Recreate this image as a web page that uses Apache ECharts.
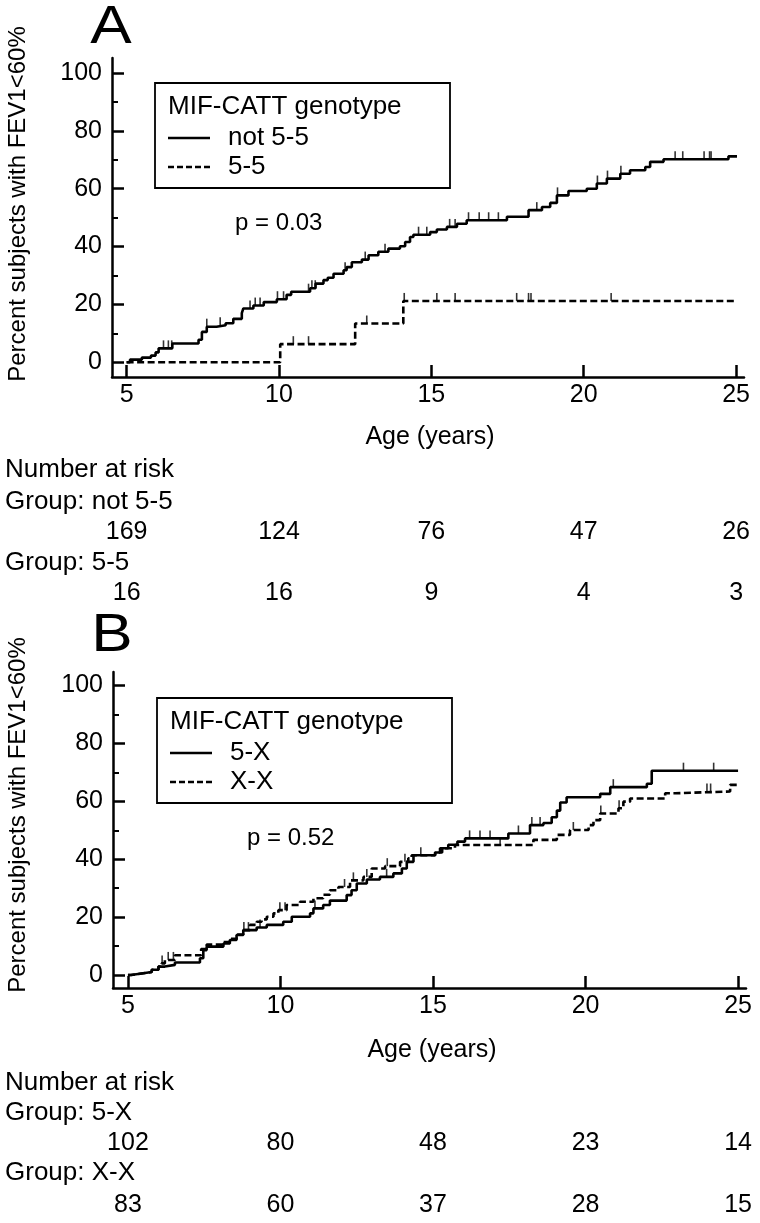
<!DOCTYPE html>
<html>
<head>
<meta charset="utf-8">
<script src="https://cdn.jsdelivr.net/npm/echarts@6/dist/echarts.min.js"></script>
<style>
html,body{margin:0;padding:0;background:#fff;}
#chart{width:760px;height:1223px;}
</style>
</head>
<body>
<div id="chart"></div>
<script>
// ---------- DATA ----------
const xTicks = [5, 10, 15, 20, 25];
const yTicks = [0, 20, 40, 60, 80, 100];
const yMinorTicks = [10, 30, 50, 70, 90];

// Panel A: not 5-5 (solid)
const aNotT = [5.0,5.11,5.5,5.8,5.95,6.05,6.5,7.36,7.47,7.63,7.95,8.25,8.5,8.78,8.83,9.16,9.5,9.93,10.25,10.4,11.02,11.2,11.46,11.6,11.79,12.12,12.22,12.39,12.72,12.94,13.26,13.59,13.97,14.14,14.3,14.41,14.96,15.18,15.51,15.84,16.16,17.48,18.19,18.63,18.9,19.12,19.5,20.1,20.43,20.76,21.2,21.52,22.02,22.18,22.62,24.75,25.03];
const aNotY = [0,0.9,1.6,2.3,3.4,4.8,6.5,7.8,10.5,12.3,12.8,13.5,15.0,17.0,18.6,19.6,20.8,21.8,23.3,24.4,25.6,27.2,28.4,29.2,30.6,31.8,32.9,34.6,35.5,37.0,38.2,39.3,40.1,41.6,43.3,44.1,45.0,45.9,46.8,47.9,49.1,50.3,52.6,53.7,55.1,57.7,59.2,60.0,61.8,63.5,65.2,66.4,67.5,69.3,70.2,71.2,71.2];
const aNotCensor = [6.21,6.37,6.48,7.63,8.07,9.05,9.22,9.38,9.95,10.15,10.97,11.08,11.19,12.17,12.83,13.48,14.58,14.85,15.6,15.78,16.22,16.57,16.88,17.2,18.46,19.14,20.45,20.78,21.22,23.0,23.25,23.95,24.13,24.18];

// Panel A: 5-5 (dashed)
const a55T = [5.0,10.04,12.5,14.08,25.03];
const a55Y = [0,6.25,13.4,21.2,21.2];
const a55Censor = [10.47,10.97,12.88,14.11,15.18,15.78,17.8,18.19,18.27,20.9];

// Panel B: 5-X (solid)
const b5XT = [5.0,5.1,5.5,5.78,6.0,6.21,6.54,7.36,7.47,7.58,8.13,8.34,8.56,8.78,9.22,9.55,10.09,10.37,10.97,11.08,11.4,11.62,12.17,12.33,12.5,12.83,13.26,13.7,13.98,14.14,14.36,15.07,15.23,15.5,15.8,16.05,17.47,18.18,18.62,18.89,19.06,19.17,19.38,20.48,20.81,22.01,22.17,25.0];
const b5XY = [0,0.6,1.0,1.8,2.9,3.5,4.3,5.8,8.6,9.8,10.9,12.1,13.8,15.5,16.4,17.3,18.4,20.1,21.3,23.0,24.2,25.7,27.6,29.3,31.6,33.0,33.9,35.1,36.8,39.1,41.4,42.3,43.8,45.0,46.1,47.2,48.9,51.8,52.5,54.5,56.8,59.6,61.4,62.6,64.9,66.1,70.6,70.6];
const b5XCensor = [8.8,8.95,9.33,11.13,13.48,14.6,16.2,16.54,16.87,17.8,18.24,18.51,20.91,23.21,24.2];

// Panel B: X-X (dashed)
const bXXT = [5.0,5.1,5.5,5.78,6.0,6.1,6.21,6.54,7.4,7.58,8.13,8.34,8.56,8.78,9.0,9.22,9.38,9.55,9.77,9.93,10.2,10.64,11.08,11.4,11.62,11.9,12.28,12.72,12.99,13.43,13.92,14.19,14.3,15.07,15.3,15.72,18.29,19.06,19.49,20.1,20.26,20.48,21.08,21.24,21.46,22.61,22.94,24.74,25.0];
const bXXY = [0,0.6,1.0,1.8,2.9,4.0,5.2,6.8,9.0,10.5,11.4,12.5,14.0,15.5,17.3,18.4,19.2,20.1,21.3,22.4,24.2,25.3,26.5,27.7,29.3,30.4,32.7,33.9,36.8,37.6,39.1,40.3,41.4,42.3,43.8,44.9,46.7,48.4,50.1,51.8,53.5,55.8,57.6,59.9,61.0,62.8,63.4,65.7,65.7];
const bXXCensor = [6.12,6.32,6.49,9.98,10.15,12.1,12.39,12.83,13.5,14.08,17.2,19.6,20.5,21.1,23.98,24.1];

// Numbers at risk
const riskNot55 = [169, 124, 76, 47, 26];
const risk55 = [16, 16, 9, 4, 3];
const risk5X = [102, 80, 48, 23, 14];
const riskXX = [83, 60, 37, 28, 15];

// ---------- HELPERS ----------
const FONT = '"Liberation Sans", Arial, Helvetica, sans-serif';
function pairs(T, Y) { return T.map((t, i) => [t, Y[i]]); }
function stepAt(T, Y, t) {
  let v = Y[0];
  for (let i = 0; i < T.length; i++) { if (T[i] <= t) v = Y[i]; }
  return v;
}
function censor(T, Y, C) { return C.map(t => [t, stepAt(T, Y, t)]); }

const black = '#000';
function mainX(grid, min, max) {
  return {
    type: 'value', gridIndex: grid, min: min, max: max,
    axisLine: { show: true, onZero: false, lineStyle: { color: black, width: 2.5 } },
    axisTick: { show: true, inside: true, length: 12, customValues: xTicks, lineStyle: { color: black, width: 2.5 } },
    axisLabel: { customValues: xTicks, color: black, fontSize: 25, fontFamily: FONT, margin: 6 },
    splitLine: { show: false }
  };
}
function riskX(grid, min, max, offset, arr) {
  return {
    type: 'value', gridIndex: grid, min: min, max: max, position: 'bottom', offset: offset,
    axisLine: { show: false, onZero: false }, axisTick: { show: false }, splitLine: { show: false },
    axisLabel: {
      customValues: xTicks, color: black, fontSize: 25, fontFamily: FONT, margin: 0, verticalAlign: 'middle',
      formatter: function (v) { const i = xTicks.indexOf(v); return i >= 0 ? String(arr[i]) : ''; }
    }
  };
}
function mainY(grid, min, max) {
  return {
    type: 'value', gridIndex: grid, min: min, max: max, position: 'left',
    axisLine: { show: true, onZero: false, lineStyle: { color: black, width: 2.5 } },
    axisTick: { show: true, inside: true, length: 12, customValues: yTicks, lineStyle: { color: black, width: 2.5 } },
    axisLabel: { customValues: yTicks, color: black, fontSize: 25, fontFamily: FONT, margin: 10 },
    splitLine: { show: false }
  };
}
function minorY(grid, min, max) {
  return {
    type: 'value', gridIndex: grid, min: min, max: max, position: 'left',
    axisLine: { show: false, onZero: false },
    axisTick: { show: true, inside: true, length: 6, customValues: yMinorTicks, lineStyle: { color: black, width: 2 } },
    axisLabel: { show: false }, splitLine: { show: false }
  };
}
function stepLine(xi, yi, T, Y, dashed) {
  return {
    type: 'line', xAxisIndex: xi, yAxisIndex: yi, data: pairs(T, Y), step: 'end',
    symbol: 'none', silent: true, z: 3,
    lineStyle: { color: black, width: 2.6, type: dashed ? [7, 3.5] : 'solid' }
  };
}
function censorMarks(xi, yi, T, Y, C) {
  return {
    type: 'scatter', xAxisIndex: xi, yAxisIndex: yi, data: censor(T, Y, C), silent: true, z: 4,
    symbol: 'rect', symbolSize: [1.6, 8], symbolOffset: [0, -4], itemStyle: { color: black }
  };
}
function txt(x, y, s, size, align, extra) {
  return Object.assign({
    type: 'text', x: x, y: y, z: 10,
    style: {
      text: s, fill: black, font: size + 'px ' + FONT, fontSize: size, fontFamily: FONT,
      align: align || 'left', textAlign: align || 'left', verticalAlign: 'middle', textVerticalAlign: 'middle'
    }
  }, extra || {});
}
function legendBox(x, y, title, l1, l2) {
  return [
    { type: 'rect', z: 9, shape: { x: x, y: y, width: 295, height: 105 }, style: { fill: '#fff', stroke: black, lineWidth: 1.8 } },
    txt(x + 13, y + 24, title, 26),
    { type: 'line', z: 10, shape: { x1: x + 13, y1: y + 55, x2: x + 55, y2: y + 55 }, style: { stroke: black, lineWidth: 2.5 } },
    txt(x + 73, y + 55, l1, 26),
    { type: 'line', z: 10, shape: { x1: x + 13, y1: y + 84, x2: x + 55, y2: y + 84 }, style: { stroke: black, lineWidth: 2.5, lineDash: [6, 3] } },
    txt(x + 73, y + 84, l2, 26)
  ];
}

// ---------- OPTION ----------
const AxMin = 4.52, AxMax = 25.26, AyMin = -5.1, AyMax = 105.2;
const BxMin = 4.51, BxMax = 25.26, ByMin = -4.5, ByMax = 104.7;
const AgridBottom = 377, BgridBottom = 988;

const option = {
  animation: false,
  backgroundColor: '#fff',
  textStyle: { fontFamily: FONT, color: black },
  grid: [
    { left: 112, top: 58, width: 632, height: 319 },
    { left: 113, top: 672, width: 633, height: 316 }
  ],
  xAxis: [
    mainX(0, AxMin, AxMax),
    riskX(0, AxMin, AxMax, 532 - AgridBottom, riskNot55),
    riskX(0, AxMin, AxMax, 593 - AgridBottom, risk55),
    mainX(1, BxMin, BxMax),
    riskX(1, BxMin, BxMax, 1143 - BgridBottom, risk5X),
    riskX(1, BxMin, BxMax, 1205 - BgridBottom, riskXX)
  ],
  yAxis: [
    mainY(0, AyMin, AyMax), minorY(0, AyMin, AyMax),
    mainY(1, ByMin, ByMax), minorY(1, ByMin, ByMax)
  ],
  series: [
    stepLine(0, 0, aNotT, aNotY, false),
    stepLine(0, 0, a55T, a55Y, true),
    censorMarks(0, 0, aNotT, aNotY, aNotCensor),
    censorMarks(0, 0, a55T, a55Y, a55Censor),
    stepLine(3, 2, b5XT, b5XY, false),
    stepLine(3, 2, bXXT, bXXY, true),
    censorMarks(3, 2, b5XT, b5XY, b5XCensor),
    censorMarks(3, 2, bXXT, bXXY, bXXCensor)
  ],
  graphic: [].concat(
    [
      txt(111, 28, 'A', 54, 'center', { scaleX: 1.15 }),
      txt(112, 636, 'B', 54, 'center', { scaleX: 1.15 }),
      txt(18, 204, 'Percent subjects with FEV1<60%', 24, 'center', { rotation: Math.PI / 2 }),
      txt(18, 815, 'Percent subjects with FEV1<60%', 24, 'center', { rotation: Math.PI / 2 }),
      txt(430, 437, 'Age (years)', 25, 'center'),
      txt(432, 1050, 'Age (years)', 25, 'center'),
      txt(235, 223, 'p = 0.03', 24),
      txt(247, 838, 'p = 0.52', 24),
      txt(5, 470, 'Number at risk', 26),
      txt(5, 502, 'Group: not 5-5', 26),
      txt(5, 563, 'Group: 5-5', 26),
      txt(5, 1083, 'Number at risk', 26),
      txt(5, 1113, 'Group: 5-X', 26),
      txt(5, 1173, 'Group: X-X', 26)
    ],
    legendBox(155, 83, 'MIF-CATT genotype', 'not 5-5', '5-5'),
    legendBox(157, 698, 'MIF-CATT genotype', '5-X', 'X-X')
  )
};

const chart = echarts.init(document.getElementById('chart'), null, { renderer: 'canvas' });
chart.setOption(option);
</script>
</body>
</html>
